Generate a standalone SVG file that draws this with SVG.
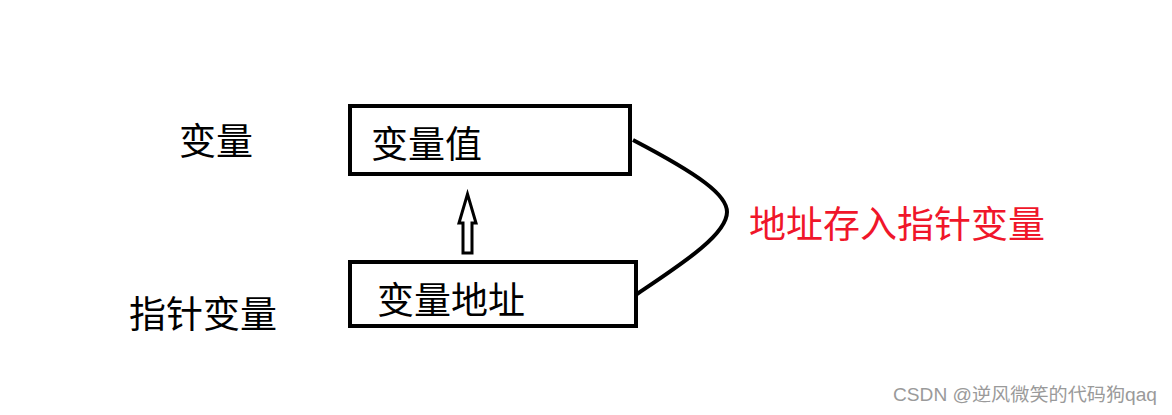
<svg xmlns="http://www.w3.org/2000/svg" width="1172" height="415" viewBox="0 0 1172 415">
<style>
.t{font-family:"Microsoft YaHei","Noto Sans CJK SC","Noto Sans",sans-serif;font-size:37px;fill:#000}
.box{fill:#fff;stroke:#000;stroke-width:4}
.red{fill:#f0162a}
.wm{font-family:"Liberation Sans","Noto Sans CJK SC",sans-serif;font-size:18px;fill:#9a9a9a}
</style>
<rect width="1172" height="415" fill="#fff"/>
<g id="label-var"><text class="t" x="179" y="155">变量</text></g>
<g id="label-ptr"><text class="t" x="129" y="328">指针变量</text></g>
<g id="node-value"><rect class="box" x="350" y="106" width="280" height="68"/><text class="t" x="371" y="158">变量值</text></g>
<g id="node-addr"><rect class="box" x="350" y="262" width="286" height="64"/><text class="t" x="377" y="314">变量地址</text></g>
<g id="connectors" fill="none" stroke="#000" stroke-width="4">
<path d="M463 253 L463 223 L459 223 L467.5 194 L476 223 L472 223 L472 253 Z" stroke-width="3" stroke-linejoin="miter"/>
<path d="M633 140 C700 175 727 195 727 212 C727 235 680 265 637 294"/>
</g>
<g id="label-store"><text class="t red" x="749" y="238">地址存入指针变量</text></g>
<text class="wm" x="893" y="401" textLength="264" lengthAdjust="spacingAndGlyphs">CSDN @逆风微笑的代码狗qaq</text>
</svg>
